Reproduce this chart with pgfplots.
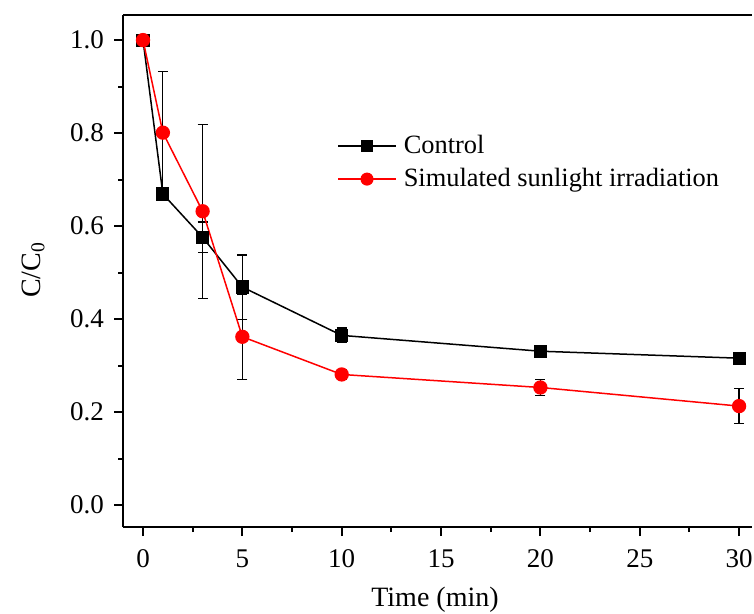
\documentclass[border=0pt]{standalone}
\usepackage{fontspec}
\setmainfont{Liberation Serif}
\usepackage{pgfplots}
\pgfplotsset{compat=1.18}
\begin{document}
\begin{tikzpicture}
\path[use as bounding box] (0,0) rectangle (377bp,307bp);
\begin{axis}[
 at={(61.5bp,43.5bp)}, anchor=south west,
 scale only axis, width=314.5bp, height=256bp,
 xmin=-1.007, xmax=30.65, ymin=-0.047, ymax=1.054,
 axis x line*=bottom, axis y line*=left,
 axis line style={-, line width=1bp},
 xtick={0,5,10,15,20,25,30}, ytick={0,0.2,0.4,0.6,0.8,1.0},
 minor x tick num=1, minor y tick num=1,
 tick align=outside, major tick length=4.5bp, minor tick length=2.5bp,
 every tick/.style={line width=1bp, black},
 /pgf/number format/assume math mode=true,
 yticklabel style={/pgf/number format/fixed, /pgf/number format/fixed zerofill, /pgf/number format/precision=1, xshift=-1.5bp},
 xticklabel style={yshift=-3.5bp},
 tick label style={font=\fontsize{13.5bp}{16bp}\selectfont},
 xlabel={Time (min)}, ylabel={C/C\textsubscript{0}},
 every axis x label/.style={at={(axis description cs:0.496,-0.143)}, anchor=center, font=\fontsize{14bp}{17bp}\selectfont},
 every axis y label/.style={at={(axis description cs:-0.143,0.502)}, rotate=90, anchor=center, font=\fontsize{14bp}{17bp}\selectfont},
 legend style={at={(axis description cs:0.34,0.77)}, anchor=north west, draw=none, fill=none, inner sep=0pt,
   font=\fontsize{13.2bp}{16bp}\selectfont, row sep=4bp,
   nodes={inner sep=1bp}},
 legend cell align=left,
 legend image code/.code={\draw[mark repeat=2,mark phase=2,#1,mark options={scale=0.9}] plot coordinates {(0bp,0bp) (14.5bp,0bp) (29bp,0bp)}; \path (31.5bp,0bp);},
 error bars/error mark options={rotate=90, mark size=2.5bp, line width=0.6bp, black},
 error bars/error bar style={line width=0.6bp, black},
]
\draw[line width=1bp] (rel axis cs:0,1) -- (rel axis cs:1,1);
\addplot[black, line width=0.75bp, mark=square*, mark size=2.9bp, mark options={solid, fill=black},
  error bars/.cd, y dir=both, y explicit]
  table[x=x, y=y, y error=e] {
x y e
0 1.0 0
1 0.669 0
3 0.576 0.033
5 0.469 0.069
10 0.365 0.016
20 0.331 0.006
30 0.316 0.005
};
\addlegendentry{Control}
\addplot[red, line width=0.75bp, mark=*, mark size=3.2bp, mark options={solid, fill=red, draw=red},
  error bars/.cd, y dir=both, y explicit]
  table[x=x, y=y, y error=e] {
x y e
0 1.0 0
1 0.801 0.131
3 0.632 0.187
5 0.362 0.092
10 0.281 0.010
20 0.253 0.018
30 0.213 0.037
};
\addlegendentry{Simulated sunlight irradiation}
\end{axis}
\end{tikzpicture}
\end{document}
